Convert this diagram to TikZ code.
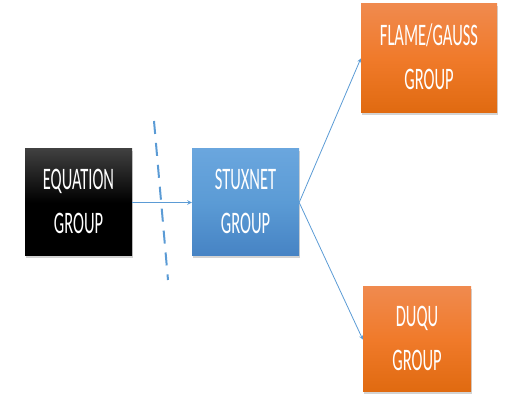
\documentclass[tikz,border=0pt]{standalone}
\usepackage{fontspec}
\setmainfont{Carlito}
\usetikzlibrary{shadows}
\tikzset{>=stealth}
\definecolor{linkblue}{HTML}{5B9BD5}
\definecolor{bluetop}{HTML}{6AA6DE}
\definecolor{bluebot}{HTML}{4683C4}
\definecolor{orangetop}{HTML}{F08A4E}
\definecolor{orangemid}{HTML}{F07A2A}
\definecolor{orangebot}{HTML}{E06A10}
\newcommand{\tallbox}[1]{\scalebox{1}[1.9]{\begin{tabular}{@{}c@{}}#1\end{tabular}}}
\tikzset{
    group/.style={rectangle, inner sep=0pt, text=white,
        font=\fontsize{16.5}{23}\selectfont,
        drop shadow={opacity=0.35, shadow xshift=1pt, shadow yshift=-2pt}},
    blackgroup/.style={group, top color=black!75, bottom color=black,
        middle color=black, minimum width=107pt, minimum height=107pt},
    bluegroup/.style={group, top color=bluetop, bottom color=bluebot,
        middle color=linkblue, minimum width=107pt, minimum height=107pt},
    orangegroup/.style={group, top color=orangetop, bottom color=orangebot,
        middle color=orangemid}
}

\begin{document}
\begin{tikzpicture}[x=1pt, y=-1pt]
    \useasboundingbox (0,0) rectangle (507,395);
    \node[blackgroup] (equation) at (78.5,202.5) {\tallbox{EQUATION\\GROUP}};
    \node[bluegroup] (stuxnet) at (245.5,202.5) {\tallbox{STUXNET\\GROUP}};
    \node[orangegroup, minimum width=136pt, minimum height=109pt] (flame) at (429,58.5) {\tallbox{FLAME/GAUSS\\GROUP}};
    \node[orangegroup, minimum width=108pt, minimum height=105pt] (duqu) at (417,339.5) {\tallbox{DUQU\\GROUP}};
    \coordinate (cuttop) at (154,121);
    \coordinate (cutbot) at (168,280);
    \draw[->, linkblue, line width=1pt] (equation) -- (stuxnet);
    \draw[->, linkblue, line width=0.8pt] (stuxnet.east) -- (flame.west);
    \draw[->, linkblue, line width=0.8pt] (stuxnet.east) -- (duqu.west);
    \draw[linkblue, line width=2pt, dash pattern=on 13pt off 9pt] (cuttop) -- (cutbot);
\end{tikzpicture}
\end{document}
